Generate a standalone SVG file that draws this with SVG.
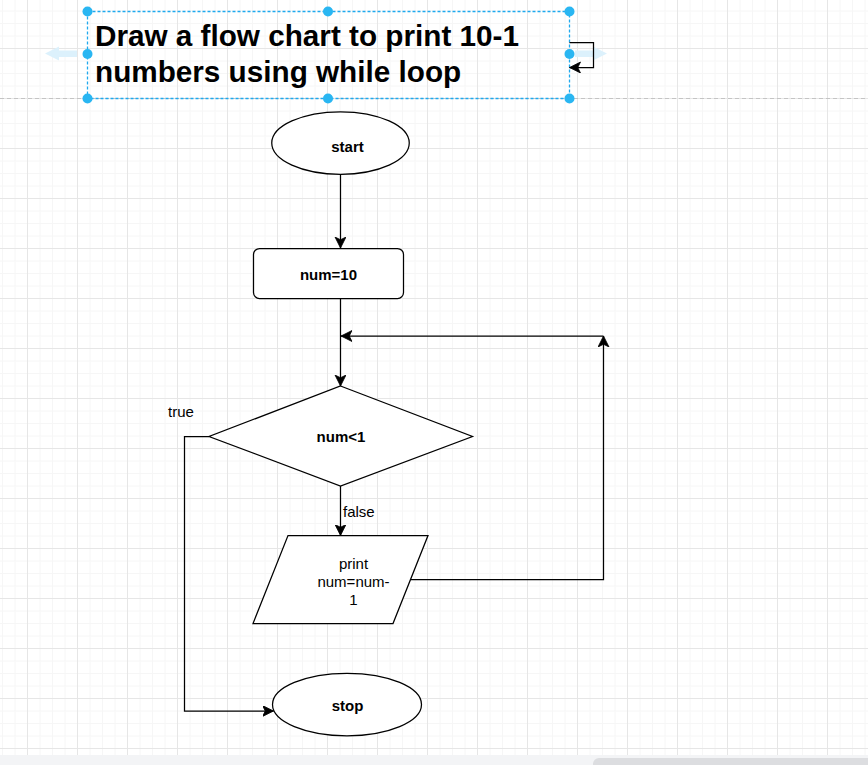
<svg xmlns="http://www.w3.org/2000/svg" width="868" height="765" viewBox="0 0 868 765">
<style>
.shape{fill:#fff;stroke:#000;stroke-width:1.25}
.edge{fill:none;stroke:#000;stroke-width:1.25}
.lbl{font-family:"Liberation Sans",Arial,sans-serif;font-size:15px;fill:#000}
.b{font-weight:bold}
.title{font-family:"Liberation Sans",Arial,sans-serif;font-size:29.7px;font-weight:bold;fill:#000}
.handle{fill:#29b6f2}
.hover{fill:#dcf1fc}
</style>
<defs>
<pattern id="grid" patternUnits="userSpaceOnUse" x="27" y="48" width="50" height="50">
<path d="M13,0V50M25.5,0V50M38,0V50M0,13H50M0,25.5H50M0,38H50" stroke="#f6f6f6" stroke-width="1" fill="none"/>
<path d="M0.5,0V50M0,0.5H50" stroke="#e6e6e6" stroke-width="1" fill="none"/>
</pattern>
<marker id="arr" markerUnits="userSpaceOnUse" markerWidth="12" markerHeight="12" refX="11" refY="5.5" orient="auto">
<path d="M11,5.5 L0,0 L2.75,5.5 L0,11 Z" fill="#000" stroke="#000" stroke-width="0.8"/>
</marker>
</defs>
<rect width="868" height="765" fill="#fff"/>
<rect width="868" height="755" fill="url(#grid)"/>
<line x1="0" y1="98.5" x2="868" y2="98.5" stroke="#c4c4c4" stroke-width="1" stroke-dasharray="4 3"/>
<rect y="755" width="868" height="10" fill="#f3f4f6"/>
<rect x="593" y="758" width="290" height="12" rx="6" fill="#dcdde0"/>

<g id="title">
<path class="hover" d="M45,53.5 L59,46.5 L59,50.5 L77,50.5 L77,57 L59,57 L59,60.5 Z"/>
<path class="hover" d="M607,53.5 L593,46.5 L593,50.5 L575,50.5 L575,57 L593,57 L593,60.5 Z"/>
<text class="title" x="95" y="46">Draw a flow chart to print 10-1</text>
<text class="title" x="95" y="82">numbers using while loop</text>
<rect x="87.5" y="11.5" width="482" height="87" fill="none" stroke="#1fa9ee" stroke-width="1.3" stroke-dasharray="3 2"/>
<path d="M569.5,42.5 H593.5 V67.5 H569.5" fill="none" stroke="#000" stroke-width="1.25" marker-end="url(#arr)"/>
<circle class="handle" cx="87.5" cy="11.5" r="5"/>
<circle class="handle" cx="328" cy="11.5" r="5"/>
<circle class="handle" cx="569.5" cy="11.5" r="5"/>
<circle class="handle" cx="87.5" cy="54" r="5"/>
<circle class="handle" cx="569.5" cy="54" r="5"/>
<circle class="handle" cx="87.5" cy="98.5" r="5"/>
<circle class="handle" cx="328" cy="98.5" r="5"/>
<circle class="handle" cx="569.5" cy="98.5" r="5"/>
</g>

<g id="connectors">
<path class="edge" d="M340.5,174.5 V248" marker-end="url(#arr)"/>
<path class="edge" d="M340.5,298.5 V386" marker-end="url(#arr)"/>
<path class="edge" d="M340.5,486 V535.5" marker-end="url(#arr)"/>
<text class="lbl" x="343" y="517">false</text>
<path class="edge" d="M209,436.5 H184.5 V711 H273.5" marker-end="url(#arr)"/>
<text class="lbl" x="168" y="417">true</text>
<path class="edge" d="M410.5,579.5 H603.5 V336" marker-end="url(#arr)"/>
<path class="edge" d="M603.5,336 H341" marker-end="url(#arr)"/>
</g>

<g id="start">
<ellipse class="shape" cx="340.5" cy="143" rx="68.75" ry="31.25"/>
<text class="lbl b" x="347.5" y="152" text-anchor="middle">start</text>
</g>

<g id="init">
<rect class="shape" x="253.5" y="248.5" width="150" height="50" rx="6"/>
<text class="lbl b" x="328.5" y="280" text-anchor="middle">num=10</text>
</g>

<g id="decision">
<path class="shape" d="M340.5,386 L472.5,436.5 L340.5,486 L209,436.5 Z"/>
<text class="lbl b" x="341" y="442" text-anchor="middle">num&lt;1</text>
</g>

<g id="print">
<path class="shape" d="M288,535.5 H428 L393,623.5 H253 Z"/>
<text class="lbl" x="353.5" y="568.5" text-anchor="middle">print</text>
<text class="lbl" x="353.5" y="586.5" text-anchor="middle">num=num-</text>
<text class="lbl" x="353.5" y="604.5" text-anchor="middle">1</text>
</g>

<g id="stop">
<ellipse class="shape" cx="347" cy="704.5" rx="74.5" ry="31.25"/>
<text class="lbl b" x="347.5" y="711" text-anchor="middle">stop</text>
</g>
</svg>
